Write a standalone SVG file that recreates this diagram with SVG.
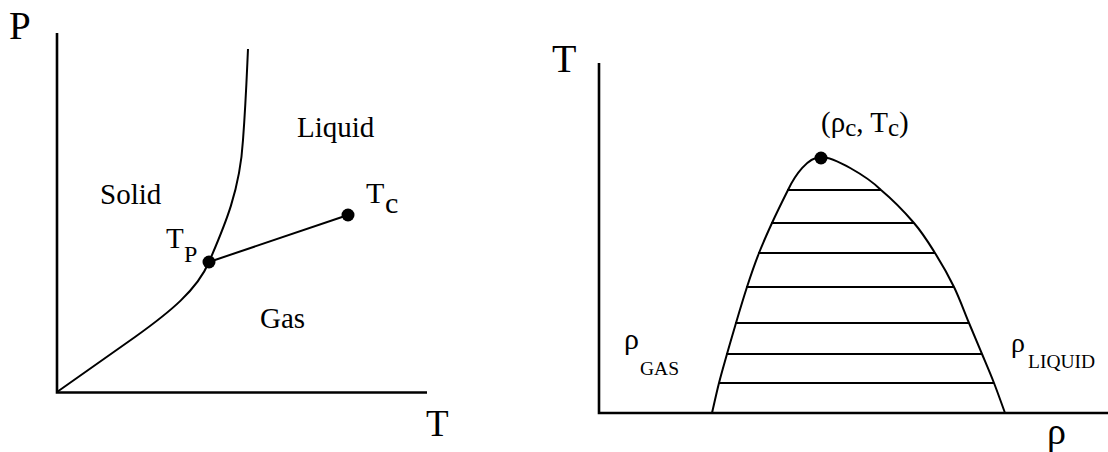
<svg xmlns="http://www.w3.org/2000/svg" width="1108" height="452" viewBox="0 0 1108 452">
<style>
.ax{stroke:#000;stroke-width:2.6;fill:none}
.cv{stroke:#000;stroke-width:2;fill:none}
.tie{stroke:#000;stroke-width:2}
.t{font-family:"Liberation Serif","Times New Roman",serif;fill:#000}
</style>
<rect width="1108" height="452" fill="#fff"/>
<g id="pt-diagram">
  <g id="pt-axes">
    <path class="ax" d="M57,33 V392.5 H427"/>
    <text class="t" x="9" y="39" font-size="39">P</text>
    <text class="t" x="426" y="436" font-size="37">T</text>
  </g>
  <g id="pt-curves">
    <path class="cv" d="M209,262 C225,225 240,190 243,140 C246,100 247,70 248,49"/>
    <path class="cv" d="M57,392 L135,337 C170,312 197,290 209,262"/>
    <line class="cv" x1="209" y1="262" x2="348" y2="215"/>
  </g>
  <g id="triple-point">
    <circle cx="209" cy="262" r="6.5"/>
    <text class="t" x="166" y="248" font-size="29">T</text>
    <text class="t" x="184" y="262" font-size="24">P</text>
  </g>
  <g id="critical-point">
    <circle cx="348" cy="215" r="6.5"/>
    <text class="t" x="366" y="203" font-size="30">T</text>
    <text class="t" x="385" y="213" font-size="30">c</text>
  </g>
  <g id="phase-labels">
    <text class="t" x="297" y="137" font-size="29">Liquid</text>
    <text class="t" x="100" y="204" font-size="29">Solid</text>
    <text class="t" x="260" y="328" font-size="29">Gas</text>
  </g>
</g>
<g id="coexistence-diagram">
  <g id="trho-axes">
    <path class="ax" d="M599,63 V413 H1108"/>
    <text class="t" x="552" y="72" font-size="40">T</text>
    <text class="t" x="1047" y="444" font-size="38">ρ</text>
  </g>
  <g id="dome">
    <path class="cv" d="M712,413 C713.2,408 716.5,392.8 719,383 C721.5,373.2 724.2,364 727,354 C729.8,344 732.7,334.2 736,323 C739.3,311.8 743.2,298.7 747,287 C750.8,275.3 754.8,263.7 759,253 C763.2,242.3 767.2,233.5 772,223 C776.8,212.5 783,200 788,190 C795,175 808,157 821,157 C834,157 867,176 881,190 C891.2,198.5 905,212.5 914,223 C923,233.5 928.3,242.3 935,253 C941.7,263.7 948.3,275.3 954,287 C959.7,298.7 964.3,311.8 969,323 C973.7,334.2 977.8,344 982,354 C986.2,364 990.2,373.2 994,383 C997.8,392.8 1003.2,408 1005,413"/>
  </g>
  <g id="tie-lines">
    <line class="tie" x1="787" y1="190" x2="881" y2="190"/>
    <line class="tie" x1="771" y1="223" x2="914" y2="223"/>
    <line class="tie" x1="758" y1="253" x2="935" y2="253"/>
    <line class="tie" x1="746" y1="287" x2="954" y2="287"/>
    <line class="tie" x1="735" y1="323" x2="969" y2="323"/>
    <line class="tie" x1="726" y1="354" x2="982" y2="354"/>
    <line class="tie" x1="719" y1="383" x2="994" y2="383"/>
  </g>
  <g id="critical-point-2">
    <circle cx="821" cy="158" r="6.5"/>
    <text class="t" x="821" y="132" font-size="29">(ρ<tspan font-size="25" dy="4">c</tspan><tspan dy="-4">, T</tspan><tspan font-size="25" dy="4">c</tspan><tspan dy="-4">)</tspan></text>
  </g>
  <g id="rho-gas">
    <text class="t" x="624" y="349" font-size="30">ρ</text>
    <text class="t" x="640" y="375" font-size="19.5">GAS</text>
  </g>
  <g id="rho-liquid">
    <text class="t" x="1011" y="352" font-size="28">ρ</text>
    <text class="t" x="1028" y="368" font-size="19.5">LIQUID</text>
  </g>
</g>
</svg>
